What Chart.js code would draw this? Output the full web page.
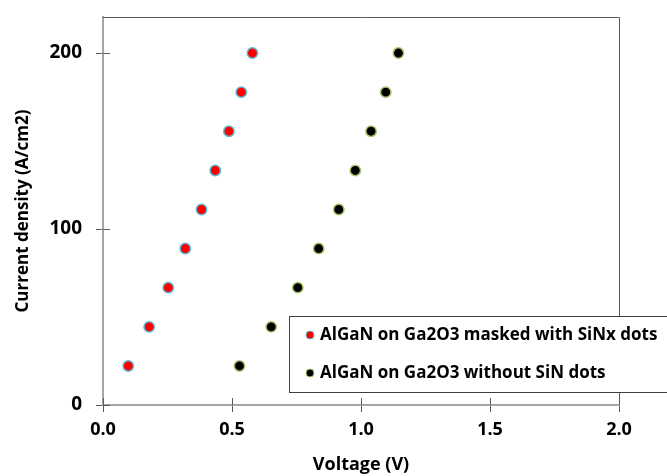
<!DOCTYPE html>
<html>
<head>
<meta charset="utf-8">
<script src="https://cdn.jsdelivr.net/npm/chart.js@4/dist/chart.umd.min.js"></script>
<style>
html,body{margin:0;padding:0;background:#fff;}
#wrap{width:667px;height:476px;}
</style>
</head>
<body>
<div id="wrap"><canvas id="c" width="667" height="476"></canvas></div>
<script>
const seriesNames = ["AlGaN on Ga2O3 masked with SiNx dots", "AlGaN on Ga2O3 without SiN dots"];
const currentDensity = [22.2, 44.4, 66.7, 88.9, 111.1, 133.3, 155.6, 177.8, 200.0];
const voltageMasked = [0.098, 0.179, 0.253, 0.319, 0.382, 0.435, 0.488, 0.536, 0.579];
const voltageNoSiN = [0.529, 0.652, 0.755, 0.836, 0.914, 0.978, 1.039, 1.096, 1.145];
const xTicks = [0.0, 0.5, 1.0, 1.5, 2.0];
const yTicks = [0, 100, 200];

const FONT = "'Open Sans', sans-serif";

function toPoints(xs, ys){ return xs.map((x,i)=>({x:x, y:ys[i]})); }

const frame = {
  id:'frame',
  afterDraw(chart){
    const ctx = chart.ctx, a = chart.chartArea;
    const xs = chart.scales.x, ys = chart.scales.y;
    ctx.save();
    ctx.strokeStyle = '#595959'; ctx.lineWidth = 1;
    ctx.beginPath();
    ctx.moveTo(a.left, a.top+0.5); ctx.lineTo(a.right+0.5, a.top+0.5);
    ctx.lineTo(a.right+0.5, a.bottom);
    ctx.stroke();
    ctx.beginPath();
    xTicks.forEach(v=>{ const px = Math.round(xs.getPixelForValue(v))+0.5; ctx.moveTo(px, a.bottom); ctx.lineTo(px, a.bottom-7); });
    yTicks.forEach(v=>{ const py = Math.round(ys.getPixelForValue(v))+0.5; ctx.moveTo(a.left, py); ctx.lineTo(a.left+7, py); });
    ctx.stroke();
    const bx = 289.5, by = 316.5, bw = 400, bh = 76;
    ctx.fillStyle = '#fff';
    ctx.fillRect(bx, by, bw, bh);
    ctx.strokeStyle = '#404040';
    ctx.strokeRect(bx, by, bw, bh);
    const ds = chart.data.datasets;
    const rows = [335, 373];
    ctx.font = "bold 17px " + FONT;
    ctx.textBaseline = 'middle';
    ds.forEach((d,i)=>{
      ctx.beginPath();
      ctx.arc(310, rows[i], 4, 0, Math.PI*2);
      ctx.fillStyle = d.backgroundColor; ctx.fill();
      ctx.lineWidth = 1; ctx.strokeStyle = d.borderColor; ctx.stroke();
      ctx.fillStyle = '#000';
      ctx.fillText(d.label, 320, rows[i]);
    });
    ctx.restore();
  }
};

new Chart(document.getElementById('c'), {
  type: 'scatter',
  data: {
    datasets: [
      { label: seriesNames[0], data: toPoints(voltageMasked, currentDensity),
        backgroundColor: '#FF0000', borderColor: '#5DB7D3', borderWidth: 1.5, pointRadius: 5.2 },
      { label: seriesNames[1], data: toPoints(voltageNoSiN, currentDensity),
        backgroundColor: '#000000', borderColor: '#A6C46A', borderWidth: 1.5, pointRadius: 5.2 }
    ]
  },
  plugins: [frame],
  options: {
    responsive: false,
    animation: false,
    devicePixelRatio: 1,
    layout: { padding: { top: 17, right: 48, left: 0, bottom: 0 } },
    plugins: { legend: { display: false }, tooltip: { enabled: false } },
    scales: {
      x: {
        type: 'linear', min: 0, max: 2,
        afterFit(s){ s.height = 71; s.paddingLeft = 0; s.paddingRight = 0; },
        afterBuildTicks(s){ s.ticks = xTicks.map(v=>({value:v})); },
        ticks: { callback: v => v.toFixed(1), color: '#000', padding: 7,
                 font: { family: FONT, size: 18, weight: 'bold' }, maxRotation: 0 },
        grid: { drawOnChartArea: false, drawTicks: true, tickLength: 7, color: '#595959', lineWidth: 1 },
        border: { display: true, color: '#A6A6A6', width: 2 },
        title: { display: true, text: 'Voltage (V)', color: '#000', padding: {top: 0, bottom: 0},
                 font: { family: FONT, size: 18, weight: 'bold' } }
      },
      y: {
        type: 'linear', min: 0, max: 220.5,
        afterFit(s){ s.width = 103; s.paddingTop = 0; s.paddingBottom = 0; },
        afterBuildTicks(s){ s.ticks = yTicks.map(v=>({value:v})); },
        ticks: { color: '#000', padding: 14,
                 font: { family: FONT, size: 19, weight: 'bold' } },
        grid: { drawOnChartArea: false, drawTicks: true, tickLength: 7, color: '#595959', lineWidth: 1 },
        border: { display: true, color: '#A6A6A6', width: 2 },
        title: { display: true, text: 'Current density (A/cm2)', color: '#000', padding: {top: 13, bottom: 0},
                 font: { family: FONT, size: 17, weight: 'bold' } }
      }
    }
  }
});
</script>
</body>
</html>
